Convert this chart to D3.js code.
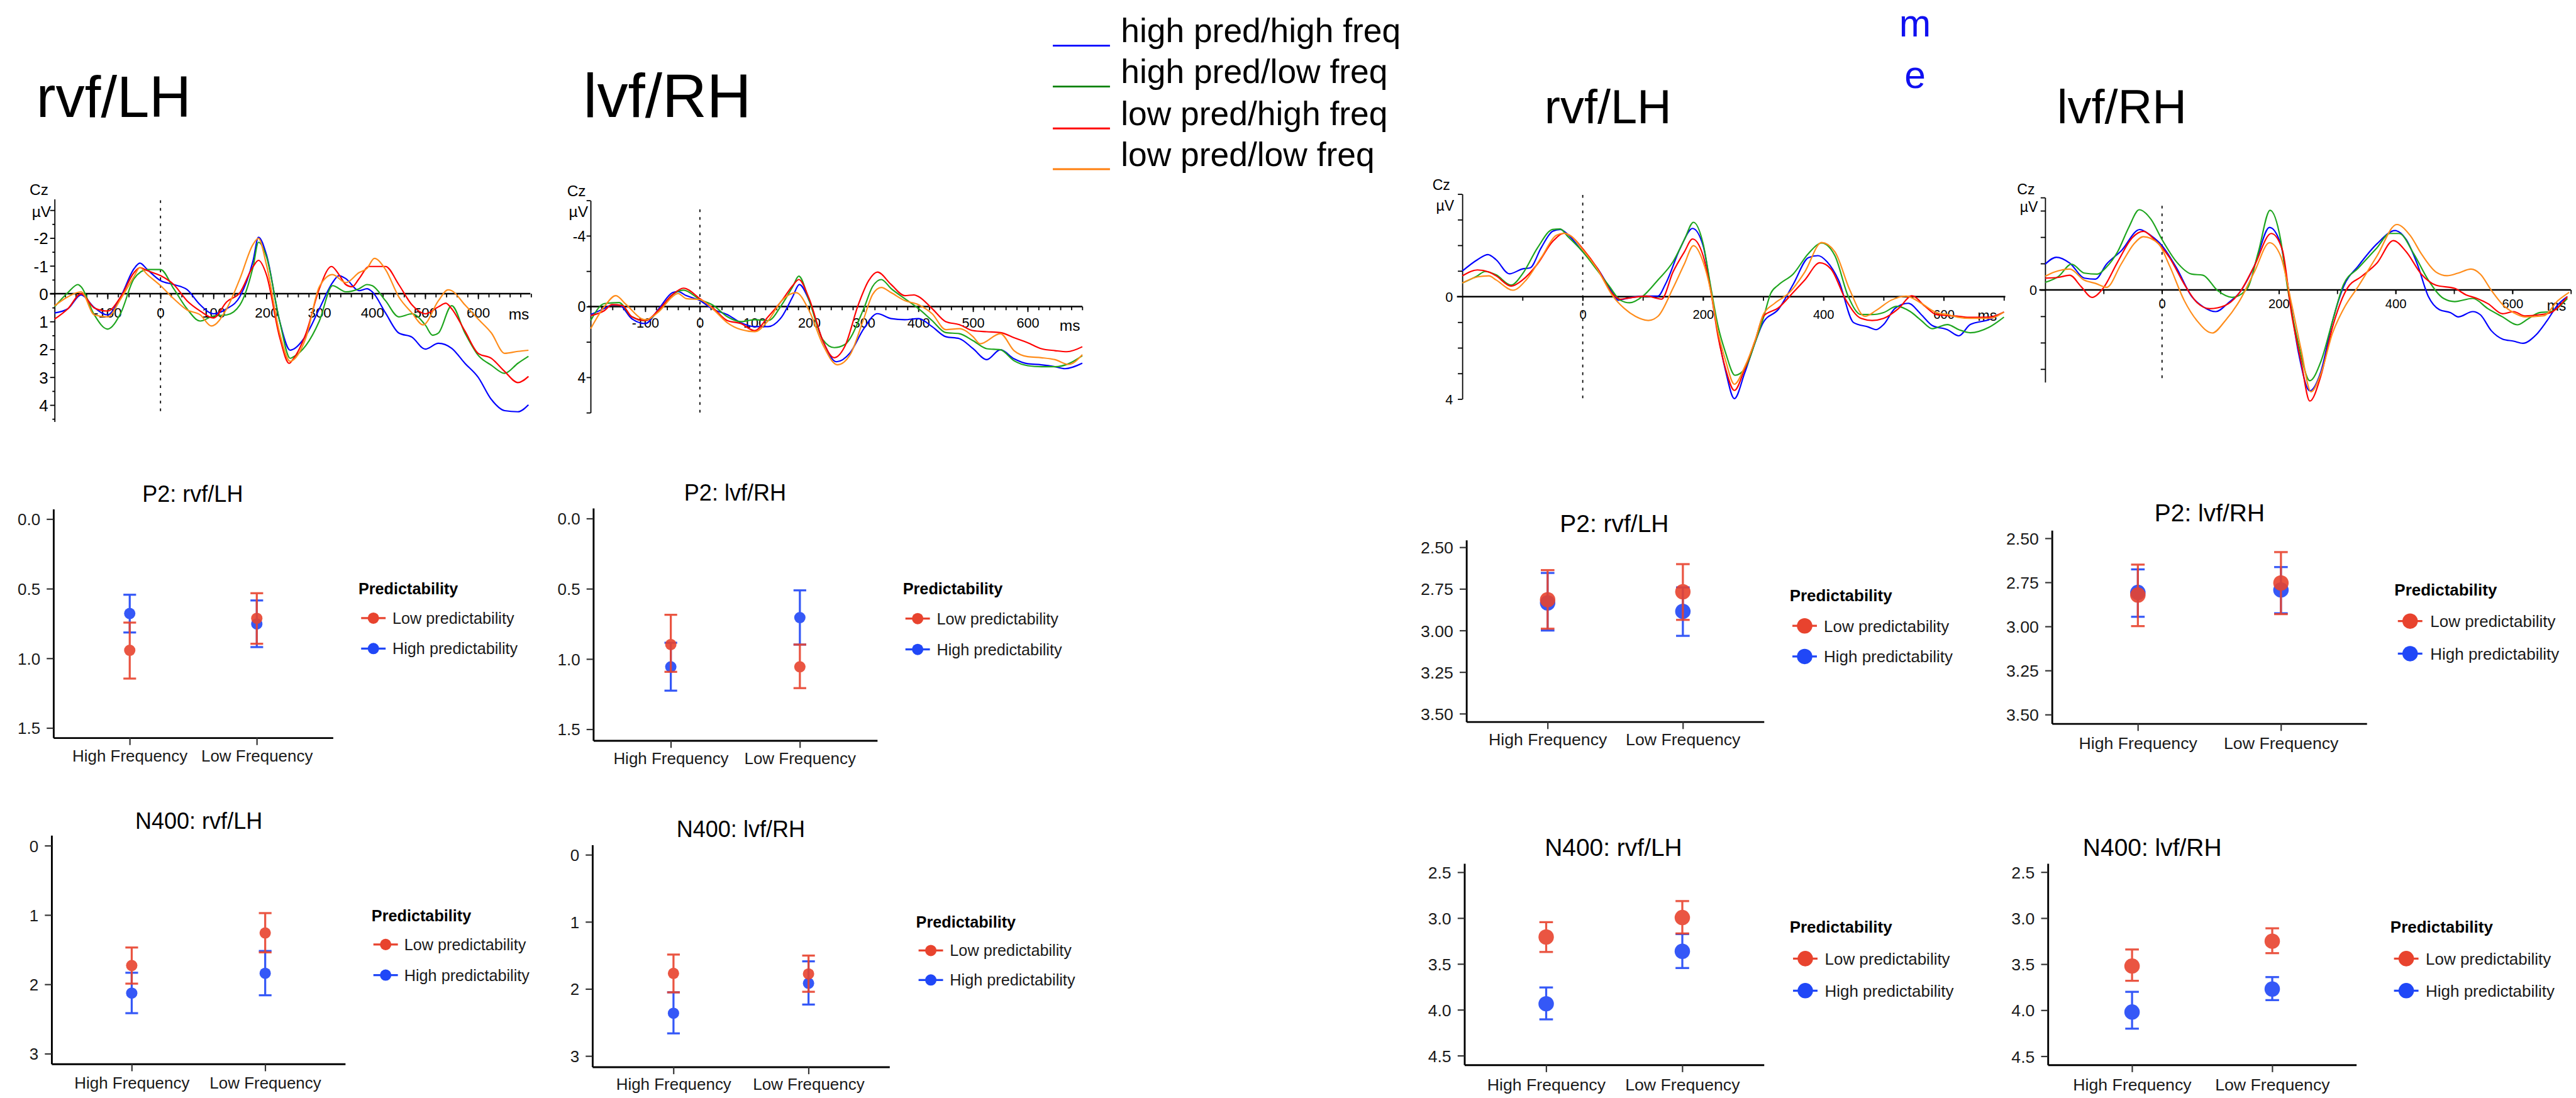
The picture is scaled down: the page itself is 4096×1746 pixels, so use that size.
<!DOCTYPE html>
<html><head><meta charset="utf-8">
<script src="https://cdn.jsdelivr.net/npm/d3@7"></script>
<style>html,body{margin:0;padding:0;background:#fff;overflow:hidden}</style>
</head><body><svg id="c"></svg>
<script>
// ---------------- DATA ----------------
const erpSeriesNames = ['high pred/high freq','high pred/low freq','low pred/high freq','low pred/low freq'];
const panelTitles = ['rvf/LH','lvf/RH','rvf/LH','lvf/RH'];

// ERP waveforms: [ms, µV] (negative plotted up)
const erp1HpHf = [[-200,0.69],[-175,0.54],[-150,0.04],[-125,0.5],[-100,0.76],[-75,0.1],[-50,-0.9],[-39,-1.1],[-25,-0.87],[0,-0.47],[25,-0.33],[50,-0.15],[75,0.4],[100,0.72],[125,0.54],[150,0.1],[175,-1.2],[185,-2.03],[200,-1.41],[225,0.98],[245,2.03],[250,2.0],[275,1.49],[300,0.54],[325,-0.4],[337,-0.65],[350,-0.54],[375,-0.11],[390,-0.18],[400,-0.07],[425,0.69],[450,1.41],[475,1.56],[500,1.99],[525,1.78],[550,1.96],[575,2.5],[600,3.0],[625,3.8],[650,4.2],[675,4.24],[695,3.99]];
const erp1HpLf = [[-200,0.47],[-175,-0.04],[-156,-0.33],[-150,-0.25],[-125,0.76],[-100,1.27],[-75,0.69],[-50,-0.54],[-25,-0.87],[0,-0.87],[25,-0.18],[50,0.54],[75,0.98],[100,0.8],[125,0.76],[150,0.4],[175,-0.98],[185,-1.85],[200,-1.34],[225,0.98],[245,2.32],[250,2.28],[275,1.85],[300,0.98],[325,-0.29],[350,-0.07],[375,-0.18],[390,-0.33],[400,-0.29],[425,0.25],[450,0.83],[475,0.72],[500,1.12],[514,1.49],[525,1.41],[550,0.43],[575,1.41],[600,2.21],[625,2.57],[650,2.86],[675,2.5],[695,2.25]];
const erp1LpHf = [[-200,0.91],[-175,0.54],[-150,0],[-125,0.51],[-100,0.62],[-75,0.11],[-50,-0.76],[-39,-0.94],[-25,-0.83],[0,-0.65],[25,-0.33],[50,0.25],[75,0.62],[100,0.87],[125,0.29],[150,-0.04],[175,-0.98],[185,-1.2],[200,-0.69],[225,1.56],[243,2.5],[250,2.36],[275,1.41],[300,-0.18],[323,-0.98],[337,-0.69],[350,-0.33],[362,-0.25],[375,-0.54],[394,-0.98],[425,-0.98],[450,-0.33],[475,0.4],[500,0.72],[525,0.47],[539,0.34],[550,0.54],[575,1.34],[600,2.14],[625,2.32],[650,2.79],[675,3.19],[695,2.97]];
const erp1LpLf = [[-200,0.43],[-175,0.11],[-150,-0.07],[-125,0.76],[-100,0.83],[-75,0.18],[-50,-0.62],[-39,-0.94],[-25,-0.69],[0,-0.29],[25,0.18],[50,0.58],[75,0.76],[96,1.16],[125,0.54],[150,-0.54],[175,-1.78],[185,-1.99],[200,-1.05],[225,1.41],[245,2.43],[250,2.39],[275,1.56],[300,-0.25],[325,-0.69],[350,-0.4],[375,-0.76],[390,-0.91],[404,-1.27],[425,-0.87],[450,0.11],[475,0.69],[496,1.12],[525,0.25],[543,-0.14],[550,-0.11],[575,0.4],[600,0.91],[625,1.41],[650,2.14],[675,2.07],[695,2.03]];

const erp2HpHf = [[-200,0.45],[-175,0.11],[-161,-0.09],[-148,-0.09],[-125,0.68],[-100,0.96],[-75,0.11],[-50,-0.79],[-40,-0.85],[-25,-0.62],[0,-0.34],[25,0.17],[50,0.45],[75,0.91],[100,1.13],[125,1.13],[150,0.57],[170,-0.57],[182,-1.25],[200,-0.34],[225,1.93],[250,3.12],[275,2.61],[300,1.25],[325,0.4],[350,0.68],[375,0.74],[400,0.68],[425,1.13],[450,1.7],[475,1.81],[500,2.38],[525,3.0],[550,2.44],[575,2.95],[600,3.23],[625,3.29],[650,3.4],[668,3.51],[700,3.2]];
const erp2HpLf = [[-200,0.79],[-175,-0.17],[-148,-0.23],[-125,0.57],[-100,0.79],[-75,0.23],[-50,-0.68],[-30,-0.93],[0,-0.4],[25,-0.06],[50,0.57],[75,0.85],[100,0.74],[125,0.79],[150,-0.11],[170,-1.13],[181,-1.72],[200,-0.34],[225,1.87],[246,2.32],[265,2.15],[300,0.11],[316,-1.13],[332,-1.53],[350,-1.02],[375,-0.45],[400,0.11],[425,0.79],[450,1.47],[475,1.53],[500,1.93],[525,2.38],[550,2.44],[575,3.06],[600,3.34],[625,3.4],[650,3.4],[675,3.23],[700,2.78]];
const erp2LpHf = [[-200,0.51],[-175,0.23],[-161,-0.11],[-142,-0.06],[-125,0.57],[-100,0.79],[-75,0.17],[-50,-0.68],[-30,-1.04],[0,-0.45],[25,0.11],[50,0.79],[75,0.96],[100,1.36],[125,0.57],[150,-0.34],[170,-1.19],[181,-1.53],[200,-0.45],[225,1.93],[246,2.89],[265,2.27],[290,-0.11],[309,-1.47],[325,-1.95],[350,-1.25],[375,-0.62],[392,-0.66],[400,-0.57],[425,0.11],[450,0.85],[475,1.02],[500,1.36],[525,1.42],[550,1.47],[575,1.76],[600,2.04],[625,2.38],[650,2.49],[672,2.55],[700,2.27]];
const erp2LpLf = [[-200,1.25],[-175,0],[-154,-0.62],[-135,-0.11],[-100,0.74],[-75,0.28],[-50,-0.57],[-40,-0.74],[-25,-0.45],[0,-0.4],[25,0.17],[50,0.91],[75,1.3],[100,1.42],[125,0.79],[150,-0.34],[176,-0.79],[200,0.23],[225,2.15],[252,3.29],[275,2.72],[300,0.68],[316,-0.68],[332,-1.08],[350,-0.79],[375,-0.34],[400,-0.11],[425,0.4],[450,1.3],[475,1.25],[500,1.7],[513,2.1],[550,1.53],[575,2.49],[600,2.83],[625,2.89],[650,3.0],[675,3.27],[700,2.72]];

const erp3HpHf = [[-200,-1.0],[-175,-1.44],[-157.5,-1.64],[-144,-1.44],[-122,-0.89],[-100,-1.08],[-87.5,-1.12],[-69,-1.91],[-50,-2.55],[-37.5,-2.62],[-25,-2.43],[0,-1.75],[25,-1.08],[50,-0.13],[59,0.14],[75,0.06],[100,-0.02],[125,-0.02],[137.5,-0.49],[162.5,-1.91],[182.5,-2.66],[200,-1.99],[212.5,-0.33],[225,1.49],[237.5,2.91],[252,3.98],[269,2.99],[287.5,1.72],[300,1.01],[325,0.5],[350,-0.49],[375,-1.52],[391,-1.6],[406,-1.36],[425,-0.65],[450,1.01],[475,1.19],[487.5,1.29],[500,1.09],[519,0.46],[541,0.26],[562.5,0.7],[581,1.13],[606,1.29],[625,1.53],[644,1.09],[675,0.9],[700,0.6]];
const erp3HpLf = [[-200,-0.53],[-175,-0.81],[-162.5,-0.98],[-144,-0.85],[-119,-0.45],[-100,-0.89],[-75,-1.91],[-50,-2.62],[-37.5,-2.64],[-25,-2.35],[0,-1.75],[25,-1.0],[44,-0.41],[62.5,0.14],[78,0.24],[100,-0.02],[125,-0.65],[150,-1.36],[169,-2.23],[184,-2.9],[200,-2.07],[212.5,-0.41],[225,1.17],[237.5,2.2],[253,3.07],[269,2.83],[287.5,1.72],[300,0.85],[312.5,-0.13],[325,-0.45],[350,-0.89],[375,-1.68],[397,-2.09],[419,-1.6],[441,-0.02],[462.5,0.7],[481,0.7],[500,0.62],[522,0.38],[544,0.58],[562.5,0.93],[581,1.25],[606,1.09],[625,1.29],[644,1.41],[675,1.2],[700,0.8]];
const erp3LpHf = [[-200,-0.81],[-175,-1.04],[-156,-0.96],[-144,-0.81],[-119,-0.41],[-100,-0.65],[-75,-1.28],[-50,-2.15],[-31,-2.47],[-19,-2.35],[0,-1.87],[25,-1.08],[50,-0.09],[62.5,0.1],[75,0.06],[106,-0.02],[131,0.1],[150,-0.96],[169,-1.75],[182.5,-2.25],[200,-1.6],[212.5,-0.25],[225,1.57],[237.5,2.83],[252,3.66],[269,2.83],[287.5,1.64],[300,0.77],[325,0.44],[350,-0.17],[369,-0.65],[394,-1.32],[412.5,-1.08],[437.5,0.14],[462.5,0.85],[481,0.93],[500,0.85],[525,0.46],[547,-0.03],[569,0.38],[587.5,0.7],[606,0.74],[625,0.77],[644,0.81],[675,0.8],[700,0.6]];
const erp3LpLf = [[-200,-0.53],[-175,-0.77],[-156,-0.81],[-144,-0.65],[-116,-0.25],[-94,-0.65],[-69,-1.52],[-44,-2.39],[-31,-2.47],[-19,-2.35],[0,-1.83],[25,-1.04],[50,-0.02],[69,0.46],[87.5,0.77],[109,0.93],[125,0.77],[150,-0.33],[169,-1.28],[184,-1.99],[200,-1.36],[212.5,-0.25],[225,1.41],[237.5,2.51],[252,3.42],[269,2.75],[287.5,1.64],[300,0.7],[319,0.26],[344,-0.17],[369,-0.96],[397,-2.11],[419,-1.75],[444,-0.25],[469,0.77],[487.5,0.54],[512.5,0.14],[537.5,-0.02],[562.5,0.26],[587.5,0.62],[606,0.7],[625,0.81],[644,0.85],[675,0.85],[700,0.6]];

const erp4HpHf = [[-200,-0.98],[-181,-1.24],[-158,-1.02],[-133,-0.45],[-114,-0.41],[-95,-0.98],[-70,-1.48],[-38,-2.29],[-19,-2.06],[0,-1.68],[25,-0.83],[51,0.25],[70,0.63],[92,0.82],[114,0.48],[133,0.09],[158,-0.91],[184,-2.37],[203,-1.75],[215,-0.22],[234,2.42],[253,3.82],[272,3.09],[292,1.17],[311,-0.14],[336,-0.91],[368,-1.75],[399,-2.25],[418,-1.91],[437,-0.98],[456,0.25],[475,0.75],[494,0.86],[507,1.02],[532,0.82],[545,0.94],[564,1.55],[583,1.86],[602,1.94],[618,2.02],[640,1.71],[659,1.17],[678,0.55],[694,0.25]];
const erp4HpLf = [[-200,-0.29],[-177,-0.52],[-155,-0.98],[-133,-0.64],[-111,-0.6],[-95,-0.87],[-76,-1.45],[-57,-2.37],[-39,-3.04],[-19,-2.68],[0,-1.91],[25,-1.06],[51,-0.6],[70,-0.56],[95,0.02],[120,0.28],[146,-0.06],[165,-1.45],[185,-3.02],[203,-1.91],[215,-0.06],[234,2.09],[253,3.44],[272,2.71],[292,1.17],[311,-0.22],[336,-0.83],[368,-1.6],[390,-2.14],[406,-2.14],[431,-1.37],[456,-0.37],[482,0.32],[501,0.44],[532,0.32],[558,0.71],[583,1.02],[608,1.32],[627,1.09],[646,0.86],[665,0.82],[694,0.32]];
const erp4LpHf = [[-200,-0.45],[-177,-0.48],[-158,-0.56],[-139,-0.14],[-120,0.28],[-101,-0.06],[-76,-1.06],[-51,-1.98],[-32,-2.22],[-13,-1.91],[13,-1.22],[38,-0.22],[60,0.48],[82,0.71],[108,0.59],[133,0.09],[158,-0.91],[187,-2.14],[206,-1.52],[222,0.94],[238,2.71],[253,4.21],[272,3.25],[292,1.4],[317,-0.06],[342,-0.52],[368,-1.02],[396,-1.87],[418,-1.45],[444,-0.6],[469,-0.18],[501,-0.06],[520,0.18],[539,0.32],[558,0.52],[583,0.9],[602,0.82],[621,0.98],[646,0.94],[665,0.86],[694,0.25]];
const erp4LpLf = [[-200,-0.52],[-184,-0.68],[-158,-0.79],[-133,-0.37],[-114,-0.25],[-95,-0.1],[-70,-0.98],[-48,-1.75],[-32,-2.02],[-6,-1.75],[13,-0.91],[38,0.4],[60,1.17],[86,1.63],[108,1.17],[133,0.4],[158,-0.68],[184,-1.79],[203,-1.29],[222,0.55],[238,2.25],[255,3.86],[272,3.17],[292,1.63],[311,0.71],[336,-0.14],[368,-1.29],[402,-2.48],[425,-2.06],[444,-1.37],[469,-0.68],[488,-0.54],[507,-0.64],[529,-0.79],[545,-0.6],[564,0.02],[583,0.55],[602,0.86],[621,1.02],[653,0.98],[678,0.4],[697,0.09]];

// Point plots: [mean, lower, upper] for High Frequency, Low Frequency
const ppCategories = ['High Frequency','Low Frequency'];
const predLevels = ['Low predictability','High predictability'];
const ppTitles = ['P2: rvf/LH','P2: lvf/RH','N400: rvf/LH','N400: lvf/RH','P2: rvf/LH','P2: lvf/RH','N400: rvf/LH','N400: lvf/RH'];
const p2RvfLeftLow   = [[0.942,0.743,1.145],[0.712,0.532,0.895]];
const p2RvfLeftHigh  = [[0.678,0.543,0.814],[0.753,0.584,0.919]];
const p2LvfLeftLow   = [[0.897,0.685,1.091],[1.055,0.897,1.207]];
const p2LvfLeftHigh  = [[1.055,0.884,1.225],[0.705,0.511,0.897]];
const n4RvfLeftLow   = [[1.728,1.468,1.989],[1.258,0.972,1.538]];
const n4RvfLeftHigh  = [[2.126,1.832,2.415],[1.840,1.518,2.157]];
const n4LvfLeftLow   = [[1.767,1.487,2.050],[1.776,1.502,2.042]];
const n4LvfLeftHigh  = [[2.362,2.050,2.662],[1.915,1.588,2.232]];
const p2RvfRightLow  = [[2.815,2.637,2.989],[2.767,2.601,2.936]];
const p2RvfRightHigh = [[2.834,2.654,3.000],[2.885,2.741,3.032]];
const p2LvfRightLow  = [[2.822,2.649,2.998],[2.753,2.578,2.930]];
const p2LvfRightHigh = [[2.807,2.676,2.945],[2.793,2.663,2.925]];
const n4RvfRightLow  = [[3.206,3.044,3.369],[2.994,2.814,3.167]];
const n4RvfRightHigh = [[3.934,3.756,4.104],[3.362,3.174,3.544]];
const n4LvfRightLow  = [[3.52,3.34,3.68],[3.25,3.11,3.38]];
const n4LvfRightHigh = [[4.02,3.80,4.20],[3.77,3.64,3.89]];

// ---------------- STYLE / LAYOUT ----------------
const erpColors = ['#0000ff','#1ea51e','#ff0000','#ff8c1a'];
const legendColors = ['#0000ff','#007f00','#ff0000','#ff7f0e'];
const lowColor = '#e8432e', highColor = '#2047f7';
const SANS = '"Liberation Sans", Arial, Helvetica, sans-serif';
const NARROW = '"Liberation Sans Narrow", "Arial Narrow", "Liberation Sans", Arial, sans-serif';

const svg = d3.select('#c').attr('width',4096).attr('height',1746)
  .attr('viewBox','0 0 5679 2421').attr('preserveAspectRatio','xMidYMid meet');
svg.append('rect').attr('width',5679).attr('height',2421).attr('fill','#fff');

// Big titles
const bigTitles = [
  {x:80, y:258, size:128}, {x:1286, y:258, size:136},
  {x:3405, y:272, size:105}, {x:4535, y:272, size:105}];
bigTitles.forEach((t,i)=> svg.append('text').attr('x',t.x).attr('y',t.y)
  .attr('font-family',SANS).attr('font-size',t.size).attr('fill','#000').text(panelTitles[i]));

// stray blue letters
svg.append('text').attr('x',4222).attr('y',80).attr('text-anchor','middle').attr('font-family',SANS)
  .attr('font-size',84).attr('fill','#1010f0').text('m');
svg.append('text').attr('x',4222).attr('y',194).attr('text-anchor','middle').attr('font-family',SANS)
  .attr('font-size',84).attr('fill','#1010f0').text('e');

// top legend
const legLineY = [100.7,190.8,283.3,373], legTextY = [93.5,183.7,276,366];
erpSeriesNames.forEach((n,i)=>{
  svg.append('line').attr('x1',2321).attr('x2',2447).attr('y1',legLineY[i]).attr('y2',legLineY[i])
    .attr('stroke',legendColors[i]).attr('stroke-width',4);
  svg.append('text').attr('x',2471).attr('y',legTextY[i]).attr('font-family',SANS).attr('font-size',74)
    .attr('fill','#000').text(n);
});

// ERP panels
const erpLayouts = [
  {xL:120.2,xR:1170.7,yT:439,yB:930,yDom:[-3.4,4.6],axX0:110,axX1:1169,tick:10,
   majorY:[-3,-2,-1,0,1,2,3,4],minorY:[-2.5,-1.5,-0.5,0.5,1.5,2.5,3.5,4.5],yLabels:[-2,-1,0,1,2,3,4],
   labRight:106,yFont:36,fam:NARROW,xMinor:d3.range(-200,701,20),xMinorLen:8,xLabels:[-100,0,100,200,300,400,500,600],xMajorLen:12,
   xLabBase:700,xFont:31,ms:{x:1121,y:705},cz:{x:65,y:430},uv:{x:70,y:479},czFont:34,dash:[441.5,910]},
  {xL:1302,xR:2386,yT:442,yB:910,yDom:[-6,6],axX0:1296,axX1:2386,tick:9,
   majorY:[-6,-4,-2,0,2,4,6],minorY:null,yLabels:[-4,0,4],
   labRight:1291,yFont:32,fam:NARROW,xMinor:d3.range(-200,701,20),xMinorLen:8,xLabels:[-100,0,100,200,300,400,500,600],xMajorLen:12,
   xLabBase:723,xFont:30,ms:{x:2336,y:729},cz:{x:1250,y:433},uv:{x:1254,y:478},czFont:34,dash:[461.6,910]},
  {xL:3224,xR:4418,yT:428,yB:880,yDom:[-4,4],axX0:3212,axX1:4421,tick:10,
   majorY:[-4,-3,-2,-1,0,1,2,3,4],minorY:null,yLabels:[0,4],
   labRight:3203,yFont:30,fam:SANS,xMinor:d3.range(-100,701,100),xMinorLen:9,xLabels:[0,200,400,600],xMajorLen:9,
   xLabBase:703,xFont:28,ms:{x:4360,y:707},cz:{x:3158,y:419},uv:{x:3166,y:465},czFont:32,dash:[430,881]},
  {xL:4509,xR:5668,yT:435.7,yB:843,yDom:[-3.5,3.5],axX0:4496,axX1:5668,tick:10,
   majorY:[-3.5,-3,-2,-1,0,1,2,3],minorY:null,yLabels:[0],
   labRight:4491,yFont:30,fam:SANS,xMinor:d3.range(-100,701,100),xMinorLen:9,xLabels:[0,200,400,600],xMajorLen:9,
   xLabBase:680,xFont:28,ms:{x:5615,y:685},cz:{x:4447,y:429},uv:{x:4453,y:467},czFont:32,dash:[453.6,843]}
];
const erpData = [
  [erp1HpHf,erp1HpLf,erp1LpHf,erp1LpLf],
  [erp2HpHf,erp2HpLf,erp2LpHf,erp2LpLf],
  [erp3HpHf,erp3HpLf,erp3LpHf,erp3LpLf],
  [erp4HpHf,erp4HpLf,erp4LpHf,erp4LpLf]];

function styleAxis(sel, fam, size){
  sel.selectAll('.tick line').attr('stroke','#000').attr('stroke-width',2.5);
  sel.selectAll('.tick text').attr('font-family',fam).attr('font-size',size).attr('fill','#000');
}

function drawErp(L, series){
  const g = svg.append('g');
  const x = d3.scaleLinear().domain([-200,700]).range([L.xL,L.xR]);
  const y = d3.scaleLinear().domain(L.yDom).range([L.yT,L.yB]);
  const y0 = y(0);
  // y axis
  const ya = g.append('g').attr('transform',`translate(${L.xL},0)`)
    .call(d3.axisLeft(y).tickValues(L.majorY).tickSize(L.tick).tickSizeOuter(0)
      .tickFormat(d => L.yLabels.includes(d) ? String(d) : ''));
  ya.select('.domain').attr('stroke','#000').attr('stroke-width',2.5);
  styleAxis(ya, L.fam, L.yFont);
  ya.selectAll('.tick text').attr('x', L.labRight - L.xL).attr('dy','0.36em');
  if (L.minorY){
    const ym = g.append('g').attr('transform',`translate(${L.xL},0)`)
      .call(d3.axisLeft(y).tickValues(L.minorY).tickSize(5).tickFormat(''));
    ym.select('.domain').remove();
    styleAxis(ym, L.fam, L.yFont);
  }
  // x axis
  g.append('line').attr('x1',L.axX0).attr('x2',L.axX1).attr('y1',y0).attr('y2',y0)
    .attr('stroke','#000').attr('stroke-width',3.5);
  const xm = g.append('g').attr('transform',`translate(0,${y0})`)
    .call(d3.axisBottom(x).tickValues(L.xMinor).tickSize(L.xMinorLen).tickFormat(''));
  xm.select('.domain').remove(); styleAxis(xm, L.fam, L.xFont);
  const xl = g.append('g').attr('transform',`translate(0,${y0})`)
    .call(d3.axisBottom(x).tickValues(L.xLabels).tickSize(L.xMajorLen).tickFormat(d=>String(d)));
  xl.select('.domain').remove(); styleAxis(xl, L.fam, L.xFont);
  xl.selectAll('.tick text').attr('y', L.xLabBase - y0).attr('dy',0);
  // dashed onset line
  g.append('line').attr('x1',x(0)).attr('x2',x(0)).attr('y1',L.dash[0]).attr('y2',L.dash[1])
    .attr('stroke','#000').attr('stroke-width',2.5).attr('stroke-dasharray','6,11');
  // labels
  g.append('text').attr('x',L.cz.x).attr('y',L.cz.y).attr('font-family',L.fam).attr('font-size',L.czFont).text('Cz');
  g.append('text').attr('x',L.uv.x).attr('y',L.uv.y).attr('font-family',L.fam).attr('font-size',L.czFont).text('µV');
  g.append('text').attr('x',L.ms.x).attr('y',L.ms.y).attr('font-family',L.fam).attr('font-size',L.czFont).text('ms');
  // waveforms
  const line = d3.line().x(d=>x(d[0])).y(d=>y(d[1])).curve(d3.curveMonotoneX);
  series.forEach((s,i)=> g.append('path').attr('d',line(s)).attr('fill','none')
    .attr('stroke',erpColors[i]).attr('stroke-width',3).attr('stroke-linejoin','round'));
}
erpLayouts.forEach((L,i)=> drawErp(L, erpData[i]));

// Point plots
const ppLayouts = [
  {ax:117.7,end:734,top:1122.6,bottom:1626.8,t:[0,1.5],p:[1144.6,1605.2],ticks:[0,0.5,1,1.5],fmt:'.1f',titleX:424.5,titleY:1106,xlabY:1678.6,legX:790,legY:1311,keyX:823,keyY:[1363,1430],textX:865,r:12.5,cap:14,font:36,titleFont:50},
  {ax:1308,end:1934,top:1120.5,bottom:1633,t:[0,1.5],p:[1143.4,1608],ticks:[0,0.5,1,1.5],fmt:'.1f',titleX:1620.6,titleY:1104,xlabY:1685,legX:1990.5,legY:1311,keyX:2023,keyY:[1364,1432],textX:2065,r:12.5,cap:14,font:36,titleFont:50},
  {ax:113.6,end:761,top:1842,bottom:2346,t:[0,3],p:[1864.7,2323.4],ticks:[0,1,2,3],fmt:'d',titleX:438,titleY:1827,xlabY:2400,legX:819,legY:2031,keyX:850,keyY:[2082.5,2150],textX:891,r:12.5,cap:14,font:36,titleFont:50},
  {ax:1306,end:1961,top:1863,bottom:2352.5,t:[0,3],p:[1884.8,2328.5],ticks:[0,1,2,3],fmt:'d',titleX:1633,titleY:1846,xlabY:2402.5,legX:2019.5,legY:2045,keyX:2052,keyY:[2095.7,2160.8],textX:2094,r:12.5,cap:14,font:36,titleFont:50},
  {ax:3233,end:3889,top:1191,bottom:1591.5,t:[2.5,3.5],p:[1206.8,1573.7],ticks:[2.5,2.75,3,3.25,3.5],fmt:'.2f',titleX:3559,titleY:1172.4,xlabY:1643,legX:3945.5,legY:1326,keyX:3978.6,keyY:[1380,1447.5],textX:4021,r:17,cap:15,font:37,titleFont:54},
  {ax:4524,end:5218,top:1169.5,bottom:1595.6,t:[2.5,3.5],p:[1187,1575.7],ticks:[2.5,2.75,3,3.25,3.5],fmt:'.2f',titleX:4871.5,titleY:1149.6,xlabY:1651.7,legX:5279,legY:1313.5,keyX:5313.5,keyY:[1369.5,1441.3],textX:5358,r:17,cap:15,font:37,titleFont:54},
  {ax:3228.6,end:3889,top:1904,bottom:2348,t:[2.5,4.5],p:[1923.3,2327.7],ticks:[2.5,3,3.5,4,4.5],fmt:'.1f',titleX:3557,titleY:1887,xlabY:2404.7,legX:3945.5,legY:2056.8,keyX:3980,keyY:[2113.7,2184.3],textX:4023,r:17,cap:15,font:37,titleFont:54},
  {ax:4515,end:5195,top:1904,bottom:2348,t:[2.5,4.5],p:[1923,2329],ticks:[2.5,3,3.5,4,4.5],fmt:'.1f',titleX:4745,titleY:1887,xlabY:2404.7,legX:5270,legY:2056.8,keyX:5305,keyY:[2113.7,2184.3],textX:5348,r:17,cap:15,font:37,titleFont:54}
];
const ppData = [
  [p2RvfLeftLow,p2RvfLeftHigh],[p2LvfLeftLow,p2LvfLeftHigh],
  [n4RvfLeftLow,n4RvfLeftHigh],[n4LvfLeftLow,n4LvfLeftHigh],
  [p2RvfRightLow,p2RvfRightHigh],[p2LvfRightLow,p2LvfRightHigh],
  [n4RvfRightLow,n4RvfRightHigh],[n4LvfRightLow,n4LvfRightHigh]];
const levelColors = [lowColor, highColor];

function drawPoint(L, title, data){
  const g = svg.append('g');
  const yt = d3.scaleLinear().domain(L.t).range(L.p);
  const y = d3.scaleLinear().domain([yt.invert(L.top), yt.invert(L.bottom)]).range([L.top, L.bottom]);
  const x = d3.scalePoint().domain(ppCategories).range([L.ax, L.end]).padding(0.6);
  const ya = g.append('g').attr('transform',`translate(${L.ax},0)`)
    .call(d3.axisLeft(y).tickValues(L.ticks).tickSize(15).tickSizeOuter(0).tickFormat(d3.format(L.fmt)));
  ya.select('.domain').attr('stroke','#000').attr('stroke-width',4);
  styleAxis(ya, SANS, L.font);
  ya.selectAll('.tick line').attr('stroke','#333').attr('stroke-width',3);
  ya.selectAll('.tick text').attr('x',-29).attr('dy','0.36em').attr('fill','#1a1a1a');
  const xa = g.append('g').attr('transform',`translate(0,${L.bottom})`)
    .call(d3.axisBottom(x).tickSize(16).tickSizeOuter(0));
  xa.select('.domain').attr('stroke','#000').attr('stroke-width',4);
  styleAxis(xa, SANS, L.font);
  xa.selectAll('.tick line').attr('stroke','#333').attr('stroke-width',3);
  xa.selectAll('.tick text').attr('y', L.xlabY - L.bottom).attr('dy',0).attr('fill','#1a1a1a');
  g.append('text').attr('x',L.titleX).attr('y',L.titleY).attr('text-anchor','middle')
    .attr('font-family',SANS).attr('font-size',L.titleFont).attr('fill','#000').text(title);
  // error bars + points: high predictability first, low on top
  [1,0].forEach(li=>{
    const col = levelColors[li];
    data[li].forEach((d,ci)=>{
      const cx = x(ppCategories[ci]);
      const gg = g.append('g').attr('opacity',0.9);
      gg.append('line').attr('x1',cx).attr('x2',cx).attr('y1',y(d[1])).attr('y2',y(d[2]))
        .attr('stroke',col).attr('stroke-width',4.5);
      [d[1],d[2]].forEach(v=> gg.append('line').attr('x1',cx-L.cap).attr('x2',cx+L.cap)
        .attr('y1',y(v)).attr('y2',y(v)).attr('stroke',col).attr('stroke-width',4.5));
      gg.append('circle').attr('cx',cx).attr('cy',y(d[0])).attr('r',L.r).attr('fill',col);
    });
  });
  // legend
  g.append('text').attr('x',L.legX).attr('y',L.legY).attr('font-family',SANS).attr('font-weight','bold')
    .attr('font-size',L.font-1).attr('fill','#000').text('Predictability');
  predLevels.forEach((n,li)=>{
    const ky = L.keyY[li];
    g.append('line').attr('x1',L.keyX-27).attr('x2',L.keyX+27).attr('y1',ky).attr('y2',ky)
      .attr('stroke',levelColors[li]).attr('stroke-width',4.5);
    g.append('circle').attr('cx',L.keyX).attr('cy',ky).attr('r',L.r).attr('fill',levelColors[li]);
    g.append('text').attr('x',L.textX).attr('y',ky).attr('dy','0.36em').attr('font-family',SANS)
      .attr('font-size',L.font-1).attr('fill','#1a1a1a').text(n);
  });
}
ppLayouts.forEach((L,i)=> drawPoint(L, ppTitles[i], ppData[i]));
</script></body></html>
